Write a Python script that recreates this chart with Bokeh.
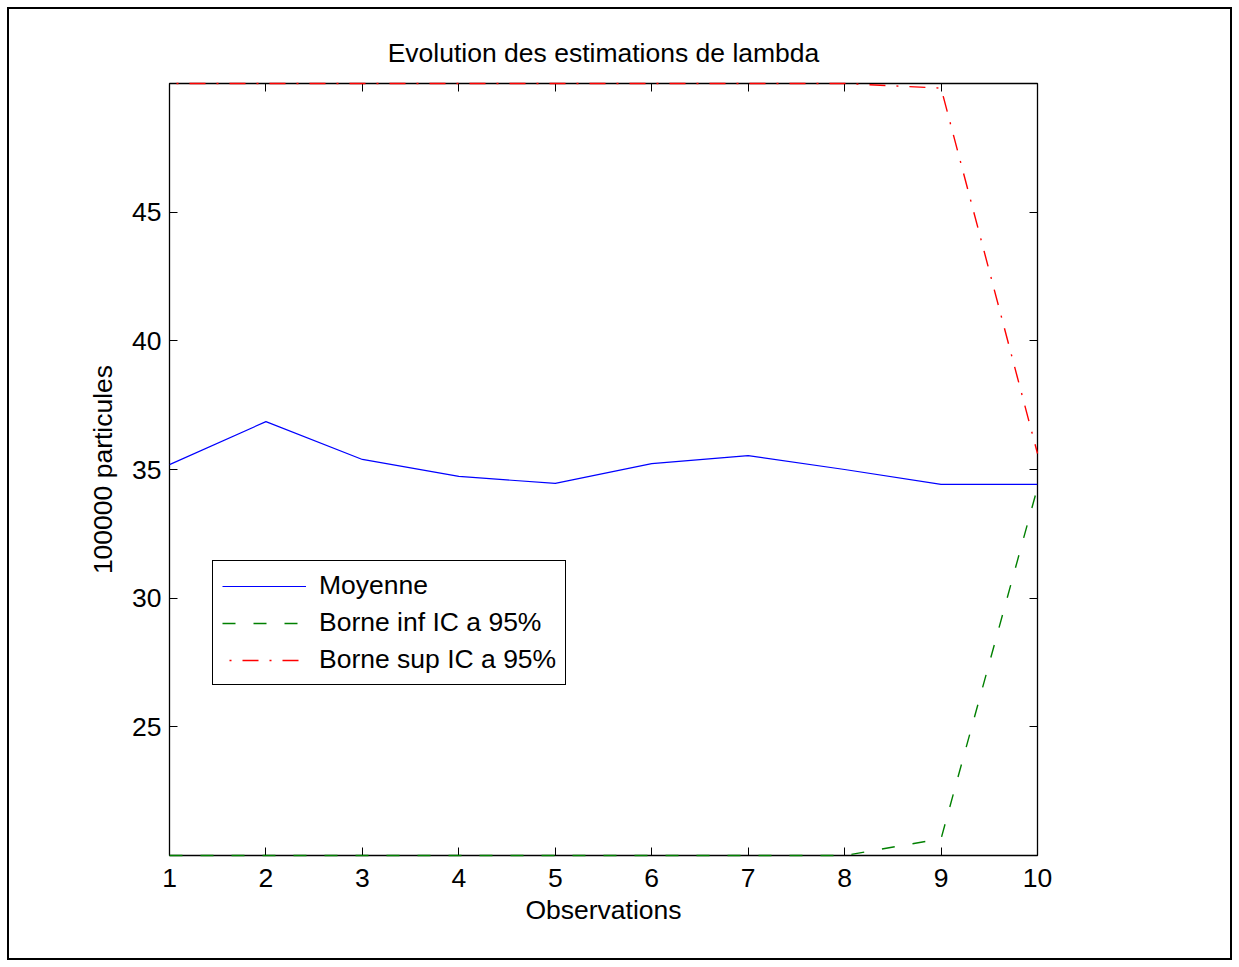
from bokeh.plotting import figure
from bokeh.models import (Range1d, FixedTicker, LinearAxis, Legend, LegendItem,
                          InlineStyleSheet)
from bokeh.embed import file_html
from bokeh.resources import INLINE

# ---- data ----
observations = [1, 2, 3, 4, 5, 6, 7, 8, 9, 10]
moyenne = [35.19, 36.86, 35.39, 34.73, 34.46, 35.23, 35.54, 35.0, 34.42, 34.42]
borne_inf = [20.0, 20.0, 20.0, 20.0, 20.0, 20.0, 20.0, 20.0, 20.65, 34.3]
borne_sup = [50.0, 50.0, 50.0, 50.0, 50.0, 50.0, 50.0, 50.0, 49.82, 35.62]
x_ticks = [1, 2, 3, 4, 5, 6, 7, 8, 9, 10]
y_ticks = [25, 30, 35, 40, 45]

FONT = "Liberation Sans"
FS = "26.5px"

p = figure(width=1239, height=967, output_backend="svg", toolbar_location=None,
           x_range=Range1d(1, 10), y_range=Range1d(20, 50),
           min_border_left=169, min_border_right=202, min_border_top=83,
           min_border_bottom=112)
p.background_fill_color = "white"
p.border_fill_color = None
p.grid.visible = False
p.outline_line_color = "black"
p.outline_line_width = 1.3
p.outline_line_alpha = 1.0
p.stylesheets = [InlineStyleSheet(css=(
    ":host { background: white; outline: 2px solid black; outline-offset: -9px; }"
))]

p.title.text = "Evolution des estimations de lambda"
p.title.align = "center"
p.title.text_font = FONT
p.title.text_font_size = FS
p.title.text_font_style = "normal"
p.title.text_color = "black"
p.title.standoff = 31


def style_axis(ax, ticks, show_labels):
    ax.ticker = FixedTicker(ticks=ticks)
    ax.major_tick_in = 8
    ax.major_tick_out = 0
    ax.minor_tick_line_color = None
    ax.major_tick_line_color = "black"
    ax.axis_line_color = None
    ax.major_label_text_font = FONT
    ax.major_label_text_font_size = FS
    if show_labels:
        ax.major_label_text_color = "black"
    else:
        ax.major_label_text_color = None
        ax.major_label_standoff = 0


xa = p.xaxis[0]
ya = p.yaxis[0]
style_axis(xa, x_ticks, True)
style_axis(ya, y_ticks, True)
xa.major_label_standoff = 13
ya.major_label_standoff = 8
xa.axis_label = "Observations"
ya.axis_label = "100000 particules"
for ax in (xa, ya):
    ax.axis_label_text_font = FONT
    ax.axis_label_text_font_size = FS
    ax.axis_label_text_font_style = "normal"
    ax.axis_label_text_color = "black"
xa.axis_label_standoff = 5
ya.axis_label_standoff = 11

top_ax = LinearAxis()
style_axis(top_ax, x_ticks, False)
p.add_layout(top_ax, "above")
right_ax = LinearAxis()
style_axis(right_ax, y_ticks, False)
p.add_layout(right_ax, "right")

r1 = p.line(observations, moyenne, line_color="#0000ff", line_width=1.2)
r2 = p.line(observations, borne_inf, line_color="#008000", line_width=1.4,
            line_dash="13 18", level="overlay")
r3 = p.line(observations, borne_sup, line_color="#ff0000", line_width=1.4,
            line_dash="16 11 2 11", line_dash_offset=20, level="overlay")

legend = Legend(items=[
    LegendItem(label="Moyenne", renderers=[r1]),
    LegendItem(label="Borne inf IC a 95%", renderers=[r2]),
    LegendItem(label="Borne sup IC a 95%", renderers=[r3]),
], location=(43, 170))
legend.label_text_font = FONT
legend.label_text_font_size = FS
legend.label_text_color = "black"
legend.glyph_width = 84
legend.glyph_height = 20
legend.label_standoff = 13
legend.padding = 9
legend.spacing = 6
legend.margin = 0
legend.border_line_color = "black"
legend.border_line_alpha = 1.0
legend.border_line_width = 1.5
legend.background_fill_alpha = 1.0
p.add_layout(legend, "center")

open("out.html", "w").write(file_html(p, INLINE))
